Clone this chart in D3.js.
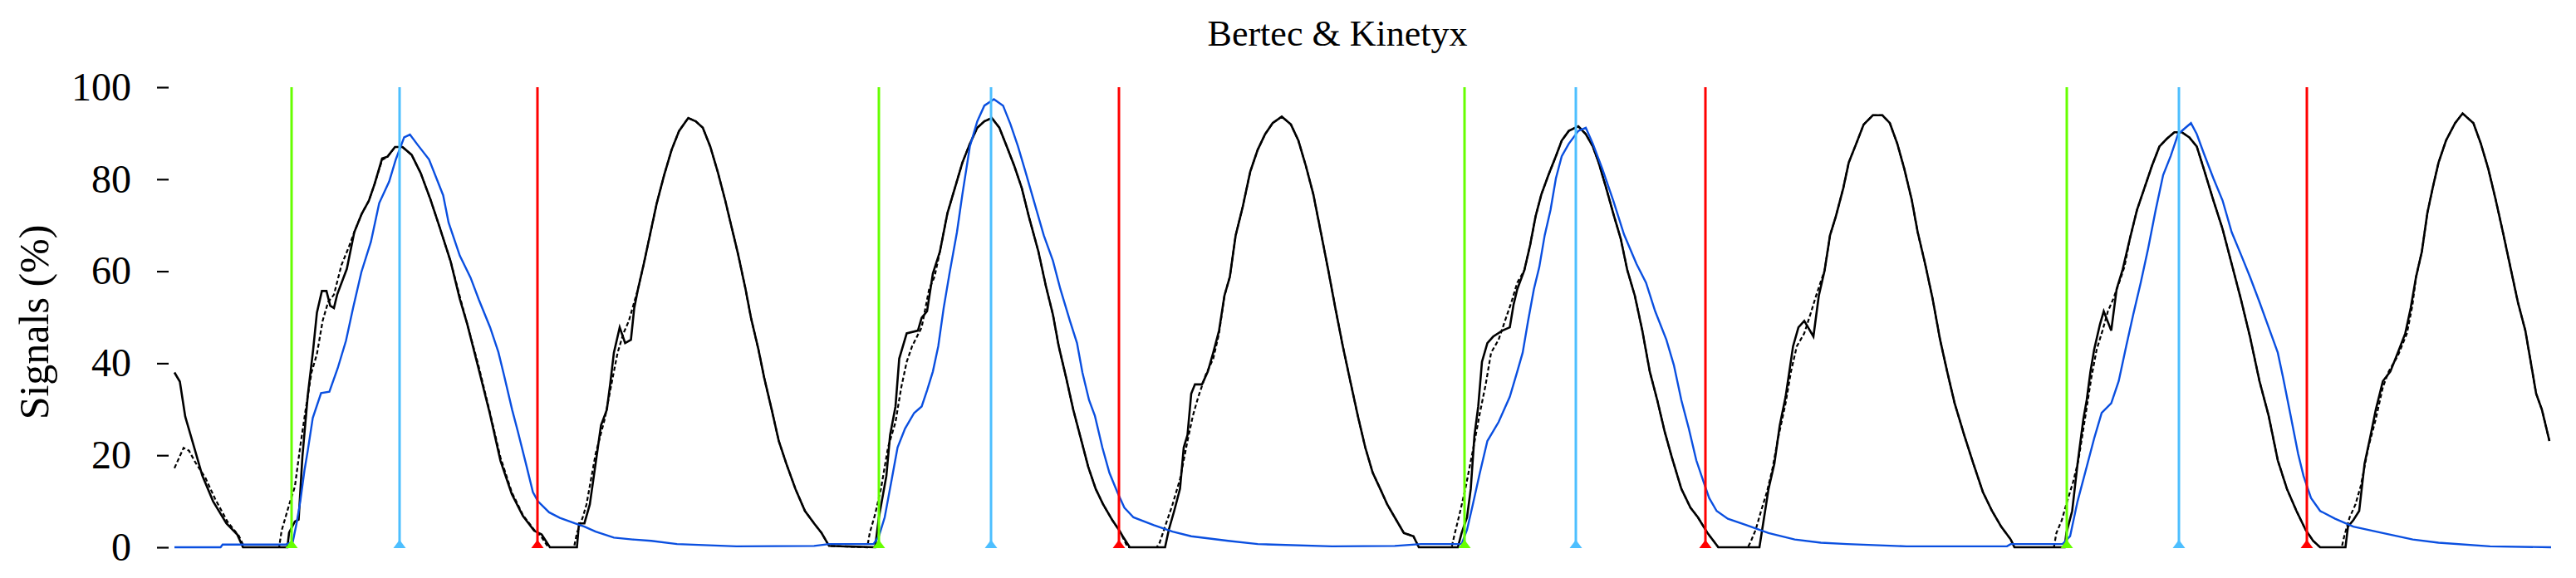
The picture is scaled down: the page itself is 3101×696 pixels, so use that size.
<!doctype html>
<html lang="en">
<head>
<meta charset="utf-8" />
<title>Bertec & Kinetyx</title>
<script src="https://cdn.jsdelivr.net/npm/d3@7"></script>
<style>
    html, body {
        margin: 0;
        background: #fff;
    }
    svg {
        display: block;
        font-family: "Palatino Linotype", "Book Antiqua", Palatino, "Liberation Serif", serif;
    }
    .y-axis .domain {
        display: none;
    }
</style>
</head>
<body>
<div id="chart"></div>
<script>
// x values are sample frames, y values are signal in %
const yTicks = [0, 20, 40, 60, 80, 100];

// event markers (frames)
const heelStrike = [28.2, 169.6, 310.6, 455.6];
const peakEvent = [54.2, 196.6, 337.4, 482.6];
const toeOff = [87.4, 227.4, 368.6, 513.4];

// Bertec, solid trace
const bertec = [
  [0,38],[1.3,36],[2.6,28.4],[4.4,22.8],[6.7,15.6],[9.3,10],[12.5,5.2],[15.1,2.8],[16.5,0],[27.2,0],
  [27.6,3.2],[29,5.6],[29.9,6],[30.8,19.6],[32.1,33],[33.4,43],[34.3,51],[35.5,55.7],[36.6,55.7],[37.5,52.5],
  [38.4,52],[39.2,55],[41.5,60.5],[43.3,68.5],[45.1,72.5],[46.8,75.3],[48.2,79],[50,84.5],[51.3,84.9],[53.1,87],
  [54.9,87],[57.1,85.3],[59.3,81.3],[61.6,75.7],[63.8,69.7],[66.5,62.1],[68.7,54],[70.5,48.5],[73.2,38.9],[75.9,29.2],
  [78.5,18.8],[81.2,11.6],[83.9,6.8],[86.6,3.6],[88.4,2.8],[90.4,0],[96.9,0],[97.4,5.2],[98.7,5.2],[100,9.3],
  [101.4,18.2],[102.7,26.5],[104.1,29.9],[104.9,35.4],[105.8,42.3],[107.2,47.8],[108.5,44.4],[109.9,45.1],[110.7,52],[111.6,56.1],
  [113,61.6],[114.3,67.1],[116.1,74.7],[117.9,80.9],[119.7,86.4],[121.5,90.5],[123.7,93.3],[125.5,92.6],[127.2,91.2],[129,87.1],
  [130.8,81.6],[132.6,75.4],[133.9,70.5],[135.7,63.7],[137.5,56.1],[138.8,49.9],[140.6,43],[142,36.8],[143.8,29.9],[145.5,23.1],
  [147.3,18.2],[149.5,12.7],[151.8,7.9],[154,5.2],[155.8,3.1],[157.6,0.3],[168.7,0],
  [169.6,6.5],[171.4,15.5],[172.3,24.4],[173.6,30.6],[174.5,41],[176.3,46.5],[179,47.1],[179.9,49.9],[181.2,51.3],[182.6,59.5],
  [184.3,64.3],[186.1,72.6],[187.9,78.1],[189.7,83.6],[191.5,87.7],[193.3,91.2],[195,92.6],[196.8,93.3],[198.6,91.2],[200.4,87.1],
  [202.2,82.9],[204,78.1],[205.7,71.9],[208,64.3],[209.8,56.8],[211.5,50.6],[212.9,43.7],[214.7,36.8],[216.4,29.9],[218.2,23.7],
  [220,17.5],[221.8,12.7],[223.6,9.3],[225.8,5.9],[227.6,3.5],[228.3,2.4],[230,0],[238.5,0],[239.4,3.8],[240.7,7.9],
  [242.1,12.7],[243,21.7],[243.9,24.4],[244.8,33.4],[245.7,35.4],[247.4,35.4],[248.8,38.2],[250.1,42.3],[251.5,47.1],[252.8,54.7],
  [254.1,58.8],[255.5,67.8],[257.2,74],[259,81.6],[260.8,86.4],[262.6,89.8],[264.4,92.2],[266.6,93.6],[268.8,91.9],[270.6,88.4],
  [272.4,82.9],[274.2,76.7],[276,68.5],[277.8,60.2],[279.5,52],[281.3,43.7],[283.1,36.1],[284.9,28.6],[286.7,21.7],[288.5,16.2],
  [290.3,12.7],[292,9.3],[293.8,6.5],[296,3.1],[298.3,2.4],[299.6,0],[309,0],
  [309.9,3.1],[311.2,6.5],[312.1,12.7],[313,24.4],[313.9,30.6],[314.8,40.3],[316.1,44.4],[317.5,45.8],[319.7,47.1],[321.5,47.8],
  [322.4,52.7],[323.3,56.1],[325,60.2],[326.4,65.7],[327.7,71.9],[329.1,76.7],[330.8,80.9],[332.6,85],[334,88.4],[335.7,90.5],
  [338,91.5],[339.8,89.8],[341.5,87.1],[342.9,83.6],[344.7,78.1],[346.4,72.6],[348.2,67.1],[349.8,60.2],[351.6,54.7],[353.4,47.1],
  [355.2,38.2],[357,32],[358.8,25.1],[360.5,19.6],[362.8,12.7],[365,8.6],[366.8,6.5],[369.1,3.1],[371.7,0],[381.6,0],
  [382.5,5.2],[383.8,12.7],[385.2,18.2],[386.5,26.5],[387.9,32.7],[388.8,38.2],[389.7,43.7],[391,47.8],[392.4,49.2],[394.6,45.8],
  [395.9,54.7],[397.3,60.2],[398.6,67.8],[400,71.9],[401.8,78.1],[403.1,83.6],[404.9,87.7],[406.7,91.9],[408.9,93.9],[411.2,93.9],
  [413,92.2],[414.8,87.7],[416.5,82.2],[418.3,75.4],[419.7,68.5],[421.5,61.6],[423.3,54],[425.1,45.1],[426.8,38.2],[428.6,31.3],
  [430.9,24.4],[433.1,18.2],[435.4,12],[437.6,7.9],[439.8,4.5],[442.1,1.7],[443,0],[455.1,0],
  [455.5,3.1],[456.9,7.9],[458.2,18.2],[459.6,27.9],[460.4,32],[461.3,38.2],[462.2,43],[463.6,48.5],[464.5,51.3],[466.3,47.1],
  [467.6,56.1],[469,60.2],[470.8,67.1],[472.5,73.3],[474.3,78.1],[476.1,82.9],[477.9,87.1],[479.7,88.8],[481.5,90.2],[483.3,90.2],
  [485.1,89.1],[486.9,87.1],[488.6,82.2],[490.9,75.4],[493.1,69.2],[495.3,61.6],[497.5,54],[499.7,45.8],[502,36.1],[504.2,28.6],
  [506.4,18.9],[508.6,12.7],[510.9,7.9],[513.1,3.8],[514.9,1.4],[516.6,0],[522.7,0],[523.3,4.5],[524.6,5.9],[526,7.9],
  [527.3,18.2],[528.6,23.7],[530,29.9],[531.7,36.1],[533.5,38.2],[535.3,42.3],[537.1,46.5],[538.4,52],[539.7,58.8],[541.1,64.3],
  [542.4,72.6],[543.7,78.1],[545.1,83.6],[546.9,88.4],[549.1,92.2],[550.9,94.3],[553.5,92.2],[555.3,87.7],[557.1,82.2],[558.9,75.4],
  [560.6,68.5],[562.4,60.9],[564.2,53.3],[566,47.1],[567.3,40.3],[568.6,33.4],[570,29.9],[571.8,23.1]
];

// Bertec, dashed trace
const bertecDashed = [
  [0,17.2],[2.2,21.6],[3.5,21],[5,18.5],[7.5,15],[9.8,10.5],[12.8,5.5],[15.5,2.5],[16.8,0],[25.2,0],
  [25.8,3.6],[27.6,9.2],[29,13.2],[30.3,22],[31.6,30],[33,38],[34.3,42],[35.7,49.3],[37,53.3],[38.4,54.9],
  [40.2,61.3],[42,65.3],[43.3,68.5],[45.1,72.5],[46.8,75.3],[48.2,79],[50,84.2],[51.3,84.9],[53.1,87],[54.9,87],
  [57.1,85.3],[59.3,81.3],[61.6,75.7],[63.8,69.7],[66.5,62.1],[68.7,54.5],[70.5,48.5],[73.2,39.5],[75.9,29.5],[78.5,19.5],
  [81.2,12],[83.9,7],[86.6,3.8],[88.4,2.2],[90,0],[96.2,0],[96.9,3.1],[98.3,6.5],[99.2,9.3],[101.4,20.3],
  [103.6,27.9],[105.8,38.2],[106.7,42.3],[108.1,46.5],[109.4,49.2],[110.7,53.3],[111.6,56.1],[113,61.6],[114.3,67.1],[116.1,74.7],
  [117.9,80.9],[119.7,86.4],[121.5,90.5],[123.7,93.3],[125.5,92.6],[127.2,91.2],[129,87.1],[130.8,81.6],[132.6,75.4],[133.9,70.5],
  [135.7,63.7],[137.5,56.1],[138.8,49.9],[140.6,43],[142,36.8],[143.8,29.9],[145.5,23.1],[147.3,18.2],[149.5,12.7],[151.8,7.9],
  [154,5.2],[155.8,3.1],[157.6,0.3],[166.8,0],
  [167.4,3.1],[168.7,7.2],[170.1,12.7],[171.8,21.7],[173.6,27.2],[175,34.8],[176.3,40.3],[177.6,43.7],[179.9,47.8],[181.7,56.1],
  [183,58.8],[184.3,64.3],[186.1,72.6],[187.9,78.1],[189.7,83.6],[191.5,87.7],[193.3,91.2],[195,92.6],[196.8,93.3],[198.6,91.2],
  [200.4,87.1],[202.2,82.9],[204,78.1],[205.7,71.9],[208,64.3],[209.8,56.8],[211.5,50.6],[212.9,43.7],[214.7,36.8],[216.4,29.9],
  [218.2,23.7],[220,17.5],[221.8,12.7],[223.6,9.3],[225.8,5.9],[227.6,3.5],[229.5,0],[236.5,0],[237.2,1],[238.5,4.5],
  [240.3,9.3],[242.1,14.8],[243.9,23.1],[245.2,28.6],[246.5,32.7],[248.3,37.5],[250.1,41],[251.5,46.5],[252.8,54.7],[254.1,58.8],
  [255.5,67.8],[257.2,74],[259,81.6],[260.8,86.4],[262.6,89.8],[264.4,92.2],[266.6,93.6],[268.8,91.9],[270.6,88.4],[272.4,82.9],
  [274.2,76.7],[276,68.5],[277.8,60.2],[279.5,52],[281.3,43.7],[283.1,36.1],[284.9,28.6],[286.7,21.7],[288.5,16.2],[290.3,12.7],
  [292,9.3],[293.8,6.5],[296,3.1],[298.3,2.4],[299.6,0],[307.5,0],
  [308.1,2.4],[309.4,7.2],[310.8,12.7],[312.6,21],[314.3,29.2],[315.7,35.4],[317,42.3],[318.8,45.1],[320.6,49.9],[321.9,53.3],
  [323.3,57.5],[325,60.2],[326.4,65.7],[327.7,71.9],[329.1,76.7],[330.8,80.9],[332.6,85],[334,88.4],[335.7,90.5],[338,91.5],
  [339.8,89.8],[341.5,87.1],[342.9,83.6],[344.7,78.1],[346.4,72.6],[348.2,67.1],[349.8,60.2],[351.6,54.7],[353.4,47.1],[355.2,38.2],
  [357,32],[358.8,25.1],[360.5,19.6],[362.8,12.7],[365,8.6],[366.8,6.5],[369.1,3.1],[371.7,0],[378.8,0],[379.4,1],
  [380.7,3.8],[382,7.9],[383.4,12],[384.7,16.9],[386.1,23.7],[387.9,31.3],[389.2,38.2],[390.6,43.7],[392.4,46.5],[394.1,51.3],
  [395.5,55.4],[397.3,60.2],[398.6,67.8],[400,71.9],[401.8,78.1],[403.1,83.6],[404.9,87.7],[406.7,91.9],[408.9,93.9],[411.2,93.9],
  [413,92.2],[414.8,87.7],[416.5,82.2],[418.3,75.4],[419.7,68.5],[421.5,61.6],[423.3,54],[425.1,45.1],[426.8,38.2],[428.6,31.3],
  [430.9,24.4],[433.1,18.2],[435.4,12],[437.6,7.9],[439.8,4.5],[442.1,1.7],[443,0],[452.5,0],
  [453.1,3.1],[454.4,5.9],[455.7,10],[457.1,14.1],[458.4,18.9],[460.2,29.2],[461.5,36.8],[462.8,43],[464.2,47.1],[465.5,51.3],
  [466.8,54],[468.2,57.5],[469.5,61],[470.8,67.1],[472.5,73.3],[474.3,78.1],[476.1,82.9],[477.9,87.1],[479.7,88.8],[481.5,90.2],
  [483.3,90.2],[485.1,89.1],[486.9,87.1],[488.6,82.2],[490.9,75.4],[493.1,69.2],[495.3,61.6],[497.5,54],[499.7,45.8],[502,36.1],
  [504.2,28.6],[506.4,18.9],[508.6,12.7],[510.9,7.9],[513.1,3.8],[514.9,1.4],[516.6,0],[521.8,0],[522.4,2.4],[523.7,6.5],
  [525.1,9.3],[526.4,13.4],[528.2,21.7],[530,27.9],[531.7,34.8],[533.1,38.2],[535.3,41.6],[537.5,46.5],[538.8,52.5],[539.7,58.8],
  [541.1,64.3],[542.4,72.6],[543.7,78.1],[545.1,83.6],[546.9,88.4],[549.1,92.2],[550.9,94.3],[553.5,92.2],[555.3,87.7],[557.1,82.2],
  [558.9,75.4],[560.6,68.5],[562.4,60.9],[564.2,53.3],[566,47.1],[567.3,40.3],[568.6,33.4],[570,29.9],[571.8,23.1]
];

// Kinetyx trace
const kinetyx = [
  [0,0],[11.1,0],[11.6,0.6],[26.8,0.6],[28.5,1.2],[29.4,5.2],[30.3,10],[31.3,16.7],[32.1,21],[33.3,28.1],
  [35.3,33.5],[37.3,33.8],[39.3,38.9],[41.3,44.9],[43,52],[45,59.8],[47.3,66.4],[49.3,74.8],[51.7,79.5],[53.3,84.3],
  [55.3,89.1],[56.7,89.7],[58.7,87.3],[61.3,84.3],[64.7,76.5],[66,70.6],[68.7,63.4],[71.3,58.6],[73.3,53.8],[76,47.8],
  [78,42.4],[79.3,37.6],[81.3,29.9],[82.7,25.1],[84.7,17.9],[86.3,12],[87.5,10],[90.2,7.6],[92.8,6.4],[96.4,5.2],
  [98.7,4.5],[101.4,3.4],[105.8,2.1],[110.3,1.7],[114.8,1.4],[121,0.7],[135.3,0.2],[154,0.3],[157.6,0.7],[168.3,0.7],
  [169.6,2.4],[171,6.5],[172.7,14.8],[174.1,21.7],[175.9,25.8],[178.1,29.2],[179.9,30.6],[181.2,34.1],[182.6,38.2],[183.9,43.7],
  [185.2,52],[186.6,59.5],[188.4,68.5],[189.7,76.7],[191.5,87.1],[193.3,92.6],[195,96],[197.3,97.4],[199.5,96],[201.3,91.9],
  [203.1,87.1],[204.9,81.6],[207.1,74.7],[209.3,67.8],[211.5,62.3],[213.3,56.1],[215.6,49.2],[217.3,44.4],[218.6,38],[220.2,32],
  [221.6,28.6],[223.4,21.7],[225.1,16.2],[227,12],[228.7,8.6],[230.9,6.5],[235.8,4.8],[240.3,3.4],[244.8,2.4],[253.7,1.4],
  [260.8,0.7],[278.7,0.2],[293.8,0.3],[300.1,0.7],[309.9,0.7],
  [311.2,3.8],[312.6,9.3],[314.3,16.2],[316.1,23.1],[318.8,27.2],[321.5,32.7],[323.3,38.2],[324.6,42.3],[325.9,49.2],[327.3,56.1],
  [328.6,60.9],[329.9,67.8],[331.3,73.3],[332.6,80.2],[334,85],[335.7,87.7],[338,90.5],[339.8,91.2],[341.5,87.7],[343.8,82.2],
  [346.4,75.4],[349,68],[352,61.6],[354.3,57.5],[356.5,51.3],[359.2,45.1],[361,39.6],[362.8,32],[364.6,25.8],[366.4,18.9],
  [368.2,14.1],[369.5,10.7],[371.3,7.9],[374,6.2],[378.5,4.8],[383.8,3.1],[390.1,1.7],[396.4,1],[402.7,0.7],[417,0.2],
  [441.2,0.2],[442.1,0.7],[454.6,0.7],
  [456.4,2.4],[458.2,10],[460.4,17.5],[462.2,23.7],[464,29.2],[466.3,31.3],[468.1,36.1],[469.9,43.7],[471.6,50.6],[473.4,57.5],
  [475.2,65],[477,73.3],[478.8,80.9],[480.6,85],[482.4,89.8],[484.2,91.2],[485.5,92.2],[486.9,89.8],[488.6,85.6],[490.9,80.2],
  [493.1,75.4],[495.3,68.5],[497.5,63.7],[499.7,58.8],[502,53.3],[504.2,47.8],[506.4,42.3],[507.7,36.8],[509.5,28.6],[511.3,20.3],
  [512.6,15.5],[514.4,10.7],[516.6,7.9],[520.2,6.2],[524.6,4.5],[531.7,3.1],[538.9,1.7],[545.1,1],[557.5,0.2],[572.2,0]
];

const width = 3101;
const height = 696;

const x = d3.scaleLinear().domain([0, 572.4]).range([210, 3072]);
const y = d3.scaleLinear().domain([0, 100]).range([659, 105]);

const svg = d3.select("#chart")
  .append("svg")
    .attr("width", width)
    .attr("height", height)
    .attr("viewBox", [0, 0, width, height]);

// title
svg.append("text")
    .attr("x", 1610)
    .attr("y", 55)
    .attr("text-anchor", "middle")
    .attr("font-size", 44)
    .attr("fill", "#000")
    .text("Bertec & Kinetyx");

// y axis, ticks only
const yAxis = svg.append("g")
    .attr("class", "y-axis")
    .attr("transform", "translate(203,0)")
    .call(d3.axisLeft(y).tickValues(yTicks).tickSize(14).tickPadding(31));

yAxis.selectAll(".tick line")
    .attr("stroke", "#000")
    .attr("stroke-width", 2.2);

yAxis.selectAll(".tick text")
    .attr("font-size", 48)
    .attr("font-family", "\"Palatino Linotype\", \"Book Antiqua\", Palatino, \"Liberation Serif\", serif")
    .attr("fill", "#000");

svg.append("text")
    .attr("transform", "translate(58,388) rotate(-90)")
    .attr("text-anchor", "middle")
    .attr("font-size", 50)
    .attr("fill", "#000")
    .text("Signals (%)");

const line = d3.line()
    .x(d => x(d[0]))
    .y(d => y(d[1]));

svg.append("path")
    .datum(bertecDashed)
    .attr("fill", "none")
    .attr("stroke", "#000")
    .attr("stroke-width", 2.2)
    .attr("stroke-dasharray", "5,3")
    .attr("d", line);

svg.append("path")
    .datum(bertec)
    .attr("fill", "none")
    .attr("stroke", "#000")
    .attr("stroke-width", 2.6)
    .attr("d", line);

svg.append("path")
    .datum(kinetyx)
    .attr("fill", "none")
    .attr("stroke", "#0a4fe0")
    .attr("stroke-width", 2.4)
    .attr("d", line);

// event lines with small triangles at the bottom
const events = [
  { frames: heelStrike, color: "#66ff00" },
  { frames: peakEvent, color: "#4dbfff" },
  { frames: toeOff, color: "#ff0000" }
];

events.forEach(ev => {
  const g = svg.append("g");
  g.selectAll("line")
    .data(ev.frames)
    .join("line")
      .attr("x1", d => x(d))
      .attr("x2", d => x(d))
      .attr("y1", y(100))
      .attr("y2", y(0))
      .attr("stroke", ev.color)
      .attr("stroke-width", 3);

  g.selectAll("path")
    .data(ev.frames)
    .join("path")
      .attr("fill", ev.color)
      .attr("d", d => {
        const p = d3.path();
        p.moveTo(x(d) - 7.5, y(0) + 1);
        p.lineTo(x(d) + 7.5, y(0) + 1);
        p.lineTo(x(d), y(0) - 9);
        p.closePath();
        return p.toString();
      });
});
</script>
</body>
</html>
